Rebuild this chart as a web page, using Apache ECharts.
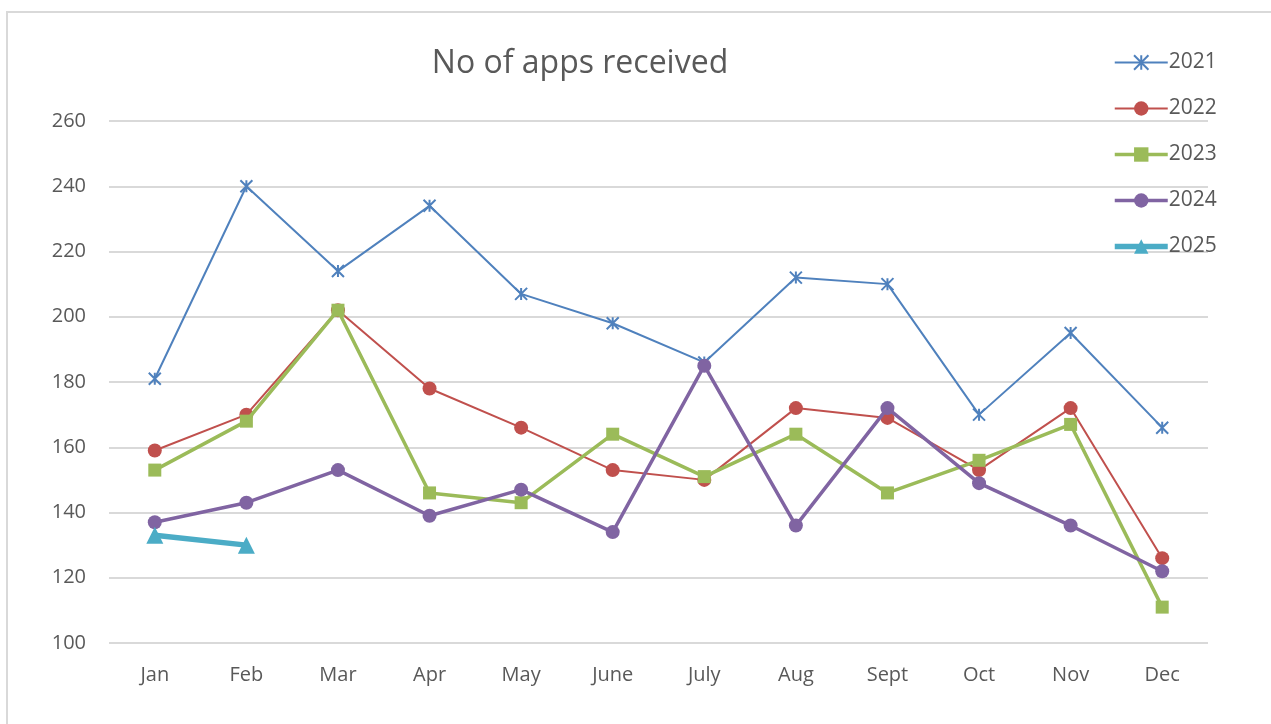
<!DOCTYPE html>
<html>
<head>
<meta charset="utf-8">
<script src="https://cdn.jsdelivr.net/npm/echarts@6/dist/echarts.min.js"></script>
<style>
html,body{margin:0;padding:0;background:#fff;}
#chart{width:1271px;height:724px;}
</style>
</head>
<body>
<div id="chart"></div>
<script>
var months = ['Jan','Feb','Mar','Apr','May','June','July','Aug','Sept','Oct','Nov','Dec'];
var yearNames = ['2021','2022','2023','2024','2025'];
var v2021 = [181,240,214,234,207,198,186,212,210,170,195,166];
var v2022 = [159,170,202,178,166,153,150,172,169,153,172,126];
var v2023 = [153,168,202,146,143,164,151,164,146,156,167,111];
var v2024 = [137,143,153,139,147,134,185,136,172,149,136,122];
var v2025 = [133,130];
var yTicks = [100,120,140,160,180,200,220,240,260];

var colors = ['#4F81BD','#C0504D','#9BBB59','#8064A2','#4BACC6'];
var font = 'Open Sans, Liberation Sans, sans-serif';
var txt = '#595959';

var chart = echarts.init(document.getElementById('chart'), null, {renderer:'canvas'});
var star = 'path://M0,0L10,10M10,0L0,10M5,0L5,10';

function mk(name, data, i, opts){
  return Object.assign({
    name: name, type: 'line', data: data,
    lineStyle: {color: colors[i], width: opts.w},
    itemStyle: {color: colors[i]},
    symbolSize: opts.s, symbol: opts.sym,
    z: 2 + i, animation: false
  }, opts.extra || {});
}

var option = {
  animation: false,
  backgroundColor: '#fff',
  graphic: [{
    type: 'rect', z: -10, silent: true,
    shape: {x: 7, y: 12, width: 1300, height: 800},
    style: {fill: 'none', stroke: '#d9d9d9', lineWidth: 2}
  }],
  title: {
    text: 'No of apps received',
    left: 575, top: 43, textAlign: 'center',
    textStyle: {fontFamily: font, fontSize: 32, fontWeight: 'normal', color: txt}
  },
  legend: {
    orient: 'vertical', left: 1112, top: 52, padding: 0,
    itemWidth: 53, itemHeight: 18, itemGap: 25,
    data: yearNames,
    lineStyle: {width: 'inherit'},
    itemStyle: {borderWidth: 'inherit'},
    textStyle: {fontFamily: font, fontSize: 21, color: txt, lineHeight: 20, padding: [0,0,0,-4]}
  },
  grid: {left: 109, right: 63, top: 121, bottom: 81, containLabel: false},
  xAxis: {
    type: 'category', data: months, boundaryGap: true,
    axisLine: {show: false}, axisTick: {show: false},
    axisLabel: {fontFamily: font, fontSize: 20, color: txt, margin: 22}
  },
  yAxis: {
    type: 'value', min: yTicks[0], max: yTicks[yTicks.length-1], interval: 20,
    axisLine: {show: false}, axisTick: {show: false},
    axisLabel: {fontFamily: font, fontSize: 20, color: txt, margin: 23},
    splitLine: {lineStyle: {color: '#d9d9d9', width: 2}}
  },
  series: [
    mk(yearNames[0], v2021, 0, {w: 2, s: 12, sym: star, extra: {
      itemStyle: {color: 'transparent', borderColor: colors[0], borderWidth: 2}
    }}),
    mk(yearNames[1], v2022, 1, {w: 2, s: 14, sym: 'circle'}),
    mk(yearNames[2], v2023, 2, {w: 3.5, s: 13, sym: 'rect'}),
    mk(yearNames[3], v2024, 3, {w: 3.5, s: 14, sym: 'circle'}),
    mk(yearNames[4], v2025, 4, {w: 5.5, s: 17, sym: 'triangle'})
  ]
};
chart.setOption(option);
</script>
</body>
</html>
